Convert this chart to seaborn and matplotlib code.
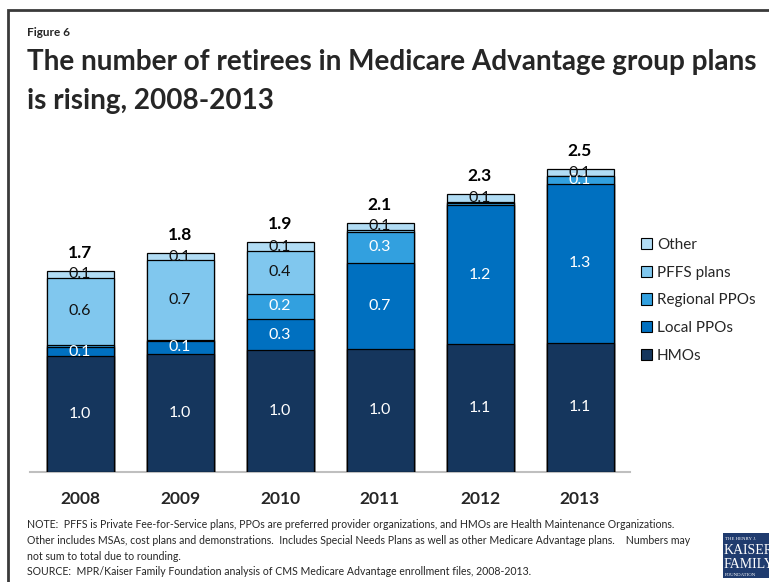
import matplotlib
matplotlib.use("Agg")
import matplotlib.pyplot as plt
from matplotlib.patches import Rectangle, Patch
import numpy as np
import pandas as pd
import seaborn as sns

sns.set_theme(style="white")
plt.rcParams["font.family"] = ["Lato", "DejaVu Sans"]

# Enrollment in Medicare Advantage group plans, millions of retirees
years = ["2008", "2009", "2010", "2011", "2012", "2013"]
hmos = [0.96, 0.98, 1.01, 1.02, 1.06, 1.07]
local_ppos = [0.08, 0.11, 0.26, 0.72, 1.16, 1.33]
regional_ppos = [0.015, 0.01, 0.21, 0.26, 0.02, 0.06]
pffs_plans = [0.56, 0.66, 0.36, 0.015, 0.01, 0.0]
other = [0.055, 0.06, 0.07, 0.06, 0.06, 0.06]

series_names = ["HMOs", "Local PPOs", "Regional PPOs", "PFFS plans", "Other"]
series_values = [hmos, local_ppos, regional_ppos, pffs_plans, other]
series_colors = ["#15365D", "#0070C0", "#32A0DF", "#80C7EE", "#B1DCF4"]
label_colors = ["white", "white", "white", "#111111", "#111111"]

df = pd.DataFrame({"year": years})
for name, vals in zip(series_names, series_values):
    df[name] = vals
cum = df[series_names].cumsum(axis=1)
totals = cum[series_names[-1]]

fig = plt.figure(figsize=(7.69, 5.82), dpi=100)
W, H = 769, 582

# outer frame
fig.add_artist(Rectangle((8 / W, -0.2), 1.3, 1.2 - 10 / H, transform=fig.transFigure,
                         fill=False, edgecolor="#3A3A3A", linewidth=2))

ax = fig.add_axes([30 / W, (H - 471.5) / H, 600 / W, 312 / H])

# stacked bars: draw cumulative heights from the top layer down
for name, color in zip(reversed(series_names), reversed(series_colors)):
    sns.barplot(data=cum.assign(year=years), x="year", y=name, color=color,
                width=0.67, edgecolor="black", linewidth=0.9, saturation=1,
                ax=ax, zorder=2)

# segment labels
for i in range(len(years)):
    base = 0.0
    for name, lc in zip(series_names, label_colors):
        v = df.loc[i, name]
        if v >= 0.045:
            ax.text(i, base + v / 2, f"{v:.1f}", ha="center", va="center",
                    color=lc, fontsize=11.5, zorder=5)
        base += v
    ax.text(i, totals[i] + 0.15, f"{totals[i]:.1f}", ha="center", va="center",
            fontsize=12.5, fontweight="bold", color="black")

ax.set_xlim(-0.5, 5.5)
ax.set_ylim(0, 2.6)
ax.set_xlabel("")
ax.set_ylabel("")
ax.set_yticks([])
ax.tick_params(axis="x", length=0, pad=14, labelsize=12.5)
for lbl in ax.get_xticklabels():
    lbl.set_fontweight("bold")
for s in ["top", "right", "left"]:
    ax.spines[s].set_visible(False)
ax.spines["bottom"].set_color("#BFBFBF")
ax.spines["bottom"].set_linewidth(1.5)
ax.spines["bottom"].set_zorder(1)

handles = [Patch(facecolor=c, edgecolor="black", linewidth=0.8, label=n)
           for n, c in zip(series_names, series_colors)][::-1]
fig.legend(handles=handles, loc="upper left", bbox_to_anchor=(627 / W, 1 - 224 / H),
           frameon=False, fontsize=11, handlelength=0.75, handleheight=0.75,
           handletextpad=0.3, labelspacing=0.9)

# headings
fig.text(27 / W, 1 - 32 / H, "Figure 6", fontsize=8.5, fontweight="bold", va="center")
fig.text(27 / W, 1 - 62 / H, "The number of retirees in Medicare Advantage group plans",
         fontsize=20.1, fontweight="bold", va="center")
fig.text(27 / W, 1 - 101 / H, "is rising, 2008-2013",
         fontsize=20.1, fontweight="bold", va="center")

notes = [
    "NOTE:  PFFS is Private Fee-for-Service plans, PPOs are preferred provider organizations, and HMOs are Health Maintenance Organizations.",
    "Other includes MSAs, cost plans and demonstrations.  Includes Special Needs Plans as well as other Medicare Advantage plans.    Numbers may",
    "not sum to total due to rounding.",
    "SOURCE:  MPR/Kaiser Family Foundation analysis of CMS Medicare Advantage enrollment files, 2008-2013.",
]
for k, line in enumerate(notes):
    fig.text(27 / W, 1 - (525 + 15.5 * k) / H, line, fontsize=7.6, va="center")

# foundation logo
fig.add_artist(Rectangle((723 / W, 1 - 578 / H), 50 / W, 45 / H, transform=fig.transFigure,
                         facecolor="#1F3B6E", edgecolor="none"))
logo_font = ["Liberation Serif", "DejaVu Serif"]
fig.text(725 / W, 1 - 539 / H, "THE HENRY J.", fontsize=3.5, color="white", va="center", family=logo_font)
fig.text(724 / W, 1 - 551 / H, "KAISER", fontsize=10, color="white", va="center", family=logo_font)
fig.text(724 / W, 1 - 564 / H, "FAMILY", fontsize=10, color="white", va="center", family=logo_font)
fig.text(725 / W, 1 - 575 / H, "FOUNDATION", fontsize=3.5, color="white", va="center", family=logo_font)

fig.savefig("out.png", dpi=100)
